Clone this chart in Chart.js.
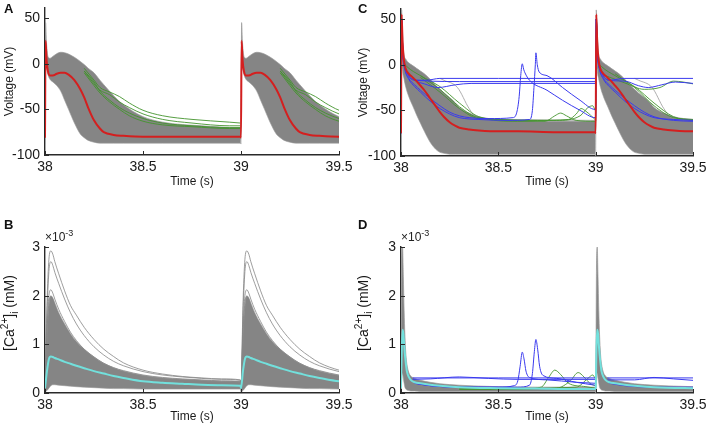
<!DOCTYPE html>
<html>
<head>
<meta charset="UTF-8">
<title>Membrane voltage and calcium traces</title>
<script src="https://cdn.jsdelivr.net/npm/chart.js"></script>
<style>
    body { margin: 0; background: #fff; font-family: "Liberation Sans", Arial, sans-serif; }
    #fig { position: relative; width: 708px; height: 429px; overflow: hidden; background: #fff; }
    #fig canvas { position: absolute; }
    .tag { position: absolute; font-weight: bold; font-size: 13px; color: #111; }
    .mult { position: absolute; font-size: 12px; color: #222; }
    .mult sup { font-size: 9px; }
    .ylab { position: absolute; width: 120px; height: 18px; line-height: 18px; text-align: center;
            font-size: 14px; color: #1a1a1a; transform: rotate(-90deg); white-space: nowrap; }
    .ylab sup, .ylab sub { font-size: 10px; line-height: 0; }
</style>
</head>
<body>
<div id="fig">
    <canvas id="chA" width="354" height="200" style="left:0;top:0"></canvas>
    <canvas id="chC" width="354" height="200" style="left:354px;top:0"></canvas>
    <canvas id="chB" width="354" height="214" style="left:0;top:215px"></canvas>
    <canvas id="chD" width="354" height="214" style="left:354px;top:215px"></canvas>
    <div class="tag" style="left:4px;top:1px">A</div>
    <div class="tag" style="left:358px;top:1px">C</div>
    <div class="tag" style="left:4px;top:217px">B</div>
    <div class="tag" style="left:358px;top:217px">D</div>
    <div class="mult" style="left:45px;top:228px">×10<sup>-3</sup></div>
    <div class="mult" style="left:401px;top:228px">×10<sup>-3</sup></div>
    <div class="ylab" style="left:-51px;top:304px">[Ca<sup>2+</sup>]<sub>i</sub> (mM)</div>
    <div class="ylab" style="left:303px;top:304px">[Ca<sup>2+</sup>]<sub>i</sub> (mM)</div>
</div>
<script>
// axes
const xTicks = [38, 38.5, 39, 39.5];
const vTicks = [-100, -50, 0, 50];
const caTicks = [0, 1, 2, 3];
const beatStarts = [38, 39];

// panel A, per beat (time offset in s, voltage mV)
const aT   = [0, 0.003, 0.008, 0.015, 0.025, 0.04, 0.06, 0.08, 0.1, 0.12, 0.15, 0.18, 0.2, 0.22, 0.25, 0.28, 0.3, 0.35, 0.4, 0.5, 0.6, 0.8, 0.997];
const aHi  = [-70, 45, 22, 8, 6, 8, 11, 12.5, 12, 10.5, 7, 2.5, -1, -5, -10, -18, -23, -35, -45, -58, -64, -68, -70];
const aLo  = [-88, 12, -4, -12, -17, -20, -24, -30, -40, -50, -65, -77, -81, -84, -86, -87, -87, -87, -87, -87, -87, -87, -87];
const aRed = [-81, 25, 4, -8, -13, -13, -11, -10, -10, -12, -18, -28, -37, -48, -62, -71, -75, -78, -79, -80, -80, -80, -80];
const aGT  = [0.2, 0.25, 0.28, 0.33, 0.38, 0.43, 0.5, 0.6, 0.75, 0.94, 0.997];
const aG1  = [-5, -18, -26, -31, -36, -43, -51, -57, -61, -64, -65];
const aG2  = [-8, -22, -29, -34, -42, -48, -55, -61, -65, -68, -68];
const aG3  = [-10, -24, -32, -42, -50, -57, -63, -67, -69, -71, -71];
const aG4  = [-8, -20, -30, -40, -48, -54, -60, -65, -68, -70, -70];

// panel C, per beat
const cT    = [0, 0.003, 0.008, 0.015, 0.025, 0.04, 0.06, 0.08, 0.1, 0.12, 0.15, 0.18, 0.2, 0.22, 0.25, 0.28, 0.3, 0.35, 0.4, 0.5, 0.6, 0.8, 0.997];
const cHi   = [-62, 60, 35, 12, 6, 2, -1, -4, -7, -10, -16, -23, -27, -31, -36, -42, -47, -53, -57, -60, -61, -62, -62];
const cLo   = [-100, 20, -5, -15, -25, -35, -45, -55, -64, -73, -85, -93, -96, -97, -98, -98, -98, -98, -98, -98, -98, -98, -98];
const cRed  = [-75, 55, 25, 5, -5, -10, -14, -18, -23, -28, -37, -46, -52, -57, -63, -67, -69, -71, -72, -73, -73, -74, -74];
const cGrayT = [0.2, 0.22, 0.29, 0.35, 0.39, 0.5, 0.997];
const cGrayV = [-15, -17, -25, -48, -58, -60, -61];

// panel C, single traces (absolute time s, mV)
const cBlue1 = [[38,-75],[38.003,50],[38.01,12],[38.03,-8],[38.07,-17],[38.13,-17],[38.2,-15],[38.5,-15],[38.997,-15],[39,-15],[39.003,50],[39.01,12],[39.03,-8],[39.07,-17],[39.15,-15],[39.5,-15]];
const cBlue2 = [[38,-75],[38.003,50],[38.01,12],[38.03,-8],[38.07,-17],[38.12,-21],[38.19,-25],[38.28,-22],[38.36,-20.5],[38.997,-20.5],[39,-20.5],[39.003,50],[39.01,12],[39.03,-8],[39.07,-17],[39.15,-18],[39.22,-23],[39.27,-25],[39.34,-22],[39.41,-19],[39.5,-20.5]];
const cBlue3 = [[38.07,-17],[38.15,-18],[38.3,-18.5],[38.997,-18.5]];
const cBlue4 = [[38,-75],[38.003,50],[38.01,10],[38.02,-5],[38.04,-15],[38.07,-22],[38.1,-28],[38.15,-37],[38.2,-45],[38.25,-52],[38.3,-56],[38.35,-58],[38.45,-59],[38.575,-58],[38.595,-52],[38.607,-35],[38.615,-12],[38.623,1],[38.63,-5],[38.637,-9],[38.66,-17],[38.75,-28],[38.83,-39],[38.92,-50],[38.997,-58],[39,-58],[39.003,50],[39.01,10],[39.02,-5],[39.04,-15],[39.07,-22],[39.1,-28],[39.15,-37],[39.2,-45],[39.25,-52],[39.3,-57],[39.4,-61],[39.5,-62]];
const cBlue5 = [[38,-75],[38.003,50],[38.01,10],[38.02,-5],[38.04,-16],[38.07,-24],[38.1,-30],[38.15,-40],[38.2,-48],[38.25,-54],[38.3,-58],[38.4,-60],[38.55,-61],[38.66,-60],[38.675,-50],[38.683,-25],[38.69,0],[38.693,13],[38.7,0],[38.71,-8],[38.75,-12],[38.83,-25],[38.92,-39],[38.997,-49],[39,-49],[39.003,50],[39.01,10],[39.02,-5],[39.04,-16],[39.07,-24],[39.1,-30],[39.15,-40],[39.2,-48],[39.25,-54],[39.3,-58],[39.4,-60],[39.5,-61]];
const cGreen1 = [[38,-75],[38.003,50],[38.01,10],[38.03,-2],[38.1,-12],[38.2,-24],[38.3,-42],[38.4,-57],[38.6,-62],[38.74,-62],[38.79,-56],[38.82,-53],[38.85,-56],[38.9,-61],[38.997,-62],[39,-62],[39.003,50],[39.01,10],[39.03,-2],[39.1,-12],[39.2,-24],[39.3,-42],[39.4,-57],[39.5,-61]];
const cGreen2 = [[38.1,-12],[38.2,-27],[38.3,-46],[38.4,-58],[38.7,-61],[38.86,-60],[38.9,-54],[38.925,-48],[38.95,-51],[38.997,-60]];
const cGreen3 = [[38.1,-14],[38.2,-30],[38.3,-48],[38.4,-59],[38.8,-61],[38.92,-56],[38.96,-47],[38.985,-45],[38.997,-50]];
const cGreen4 = [[39.05,-12],[39.1,-16],[39.15,-20],[39.25,-27],[39.33,-25],[39.4,-18],[39.45,-19],[39.5,-21]];
const cGreen5 = [[39.1,-10],[39.2,-25],[39.3,-45],[39.4,-58],[39.5,-60]];

// panel B, per beat (time offset s, Ca x1e-3 mM)
const bT    = [0, 0.01, 0.02, 0.03, 0.04, 0.05, 0.07, 0.1, 0.13, 0.16, 0.2, 0.25, 0.3, 0.35, 0.4, 0.5, 0.6, 0.7, 0.8, 0.9, 0.997];
const bHi   = [0.1, 1.2, 1.8, 2.0, 1.95, 1.85, 1.65, 1.42, 1.22, 1.06, 0.9, 0.74, 0.61, 0.52, 0.45, 0.36, 0.31, 0.28, 0.26, 0.24, 0.23];
const bLo   = [0.02, 0.05, 0.1, 0.15, 0.17, 0.17, 0.16, 0.15, 0.14, 0.13, 0.12, 0.11, 0.1, 0.09, 0.09, 0.08, 0.08, 0.08, 0.08, 0.08, 0.08];
const bTop1 = [0.1, 1.8, 2.75, 2.92, 2.85, 2.7, 2.45, 2.1, 1.8, 1.6, 1.35, 1.1, 0.9, 0.75, 0.62, 0.47, 0.39, 0.34, 0.31, 0.29, 0.27];
const bTop2 = [0.1, 1.6, 2.5, 2.7, 2.62, 2.48, 2.25, 1.93, 1.65, 1.42, 1.18, 0.95, 0.78, 0.65, 0.56, 0.44, 0.37, 0.33, 0.3, 0.28, 0.26];
const bTop3 = [0.1, 1.3, 2.0, 2.12, 2.05, 1.93, 1.72, 1.47, 1.25, 1.08, 0.9, 0.74, 0.61, 0.52, 0.46, 0.37, 0.32, 0.29, 0.27, 0.25, 0.24];
const bTop4 = [0.1, 1.2, 1.85, 1.98, 1.92, 1.8, 1.6, 1.38, 1.18, 1.0, 0.84, 0.68, 0.57, 0.49, 0.43, 0.35, 0.3, 0.27, 0.25, 0.24, 0.23];
const bCyan = [0.1, 0.45, 0.7, 0.75, 0.74, 0.72, 0.69, 0.64, 0.6, 0.56, 0.51, 0.45, 0.4, 0.35, 0.31, 0.24, 0.21, 0.19, 0.17, 0.16, 0.15];

// panel D, per beat
const dT    = [0, 0.004, 0.008, 0.012, 0.016, 0.02, 0.025, 0.03, 0.04, 0.05, 0.07, 0.1, 0.15, 0.2, 0.3, 0.5, 0.7, 0.9, 0.997];
const dHi   = [0.1, 2.5, 3.0, 2.4, 1.7, 1.2, 0.8, 0.6, 0.42, 0.35, 0.3, 0.26, 0.22, 0.19, 0.16, 0.13, 0.12, 0.12, 0.12];
const dLo   = [0.0, 0.3, 0.4, 0.3, 0.2, 0.12, 0.08, 0.06, 0.05, 0.04, 0.04, 0.03, 0.03, 0.03, 0.03, 0.03, 0.03, 0.03, 0.03];
const dCyan = [0.1, 0.9, 1.3, 1.22, 1.0, 0.8, 0.6, 0.45, 0.33, 0.27, 0.22, 0.2, 0.17, 0.15, 0.12, 0.1, 0.09, 0.08, 0.08];

// panel D, single traces (absolute time s); null = break
const dBlue1 = [[38.06,0.31],[38.5,0.31],[38.997,0.31],[38.998,null],[39.06,0.31],[39.5,0.31]];
const dBlue2 = [[38.06,0.28],[38.15,0.29],[38.3,0.33],[38.45,0.3],[38.6,0.28],[38.997,0.28],[38.998,null],[39.06,0.27],[39.2,0.27],[39.3,0.32],[39.4,0.29],[39.5,0.26]];
const dBlue3 = [[38.07,0.2],[38.15,0.15],[38.3,0.12],[38.5,0.12],[38.58,0.15],[38.6,0.25],[38.612,0.55],[38.623,0.84],[38.632,0.7],[38.642,0.45],[38.66,0.32],[38.75,0.27],[38.9,0.22],[38.997,0.2],[38.998,null],[39.07,0.2],[39.15,0.15],[39.3,0.12],[39.5,0.12]];
const dBlue4 = [[38.07,0.2],[38.15,0.15],[38.3,0.12],[38.6,0.12],[38.66,0.16],[38.675,0.4],[38.685,0.85],[38.693,1.1],[38.702,0.9],[38.712,0.55],[38.73,0.36],[38.8,0.3],[38.9,0.22],[38.997,0.16]];
const dGreen1 = [[38.3,0.08],[38.6,0.08],[38.72,0.12],[38.76,0.33],[38.79,0.47],[38.82,0.38],[38.86,0.2],[38.95,0.13],[38.997,0.1]];
const dGreen2 = [[38.3,0.08],[38.8,0.1],[38.87,0.25],[38.91,0.42],[38.94,0.33],[38.97,0.2],[38.997,0.15]];
const dGreen3 = [[38.3,0.08],[38.9,0.12],[38.96,0.3],[38.985,0.37],[38.997,0.3]];

// colours
const GRAY = '#858585', GRAY_LINE = '#9a9a9a', RED = '#d41f1f', CYAN = '#72e0dc', BLUE = '#3a3aee', GREEN = '#44942e';
const AXIS = '#2a2a2a';
const FONT = '"Liberation Sans", Arial, sans-serif';

// repeat a beat at each start time; traces that start late get a break between beats
function beats(offsets, vals) {
    const out = [];
    beatStarts.forEach((s, k) => {
        if (k > 0 && offsets[0] > 0) out.push({x: s - 0.001, y: null});
        offsets.forEach((t, i) => out.push({x: s + t, y: vals[i]}));
    });
    return out;
}
function pairs(p) {
    return p.map(q => ({x: q[0], y: q[1]}));
}
function line(data, color, width, order, extra) {
    return Object.assign({
        data: data, borderColor: color, borderWidth: width, pointRadius: 0,
        fill: false, order: order, cubicInterpolationMode: 'monotone', spanGaps: false
    }, extra || {});
}
function band(lo, hi) {
    return [
        line(lo, GRAY_LINE, 0.6, 20),
        line(hi, GRAY_LINE, 0.7, 20, {fill: '-1', backgroundColor: GRAY})
    ];
}

// inward tick marks like the original
const inTicks = {
    id: 'inTicks',
    afterDraw(chart) {
        const {ctx, chartArea: a, scales} = chart;
        ctx.save();
        ctx.strokeStyle = AXIS;
        ctx.lineWidth = 1;
        scales.x.ticks.forEach(t => {
            const px = Math.round(scales.x.getPixelForValue(t.value)) + 0.5;
            ctx.beginPath(); ctx.moveTo(px, a.bottom); ctx.lineTo(px, a.bottom - 4); ctx.stroke();
        });
        scales.y.ticks.forEach(t => {
            const py = Math.round(scales.y.getPixelForValue(t.value)) + 0.5;
            ctx.beginPath(); ctx.moveTo(a.left, py); ctx.lineTo(a.left + 4, py); ctx.stroke();
        });
        ctx.restore();
    }
};

function makeChart(id, datasets, p) {
    return new Chart(document.getElementById(id), {
        type: 'line',
        data: {datasets: datasets},
        plugins: [inTicks],
        options: {
            responsive: false,
            animation: false,
            events: [],
            layout: {padding: {top: p.top, right: 15, left: 0, bottom: 0}},
            plugins: {legend: {display: false}, tooltip: {enabled: false}},
            scales: {
                x: {
                    type: 'linear', min: 38, max: 39.5,
                    grid: {display: false, drawTicks: false},
                    border: {display: true, color: AXIS, width: 1.4},
                    ticks: {color: '#1a1a1a', font: {family: FONT, size: 14}, padding: p.xPad, maxRotation: 0,
                            callback: v => String(v)},
                    title: {display: true, text: 'Time (s)', color: '#1a1a1a', font: {family: FONT, size: 12}, padding: {top: 0, bottom: p.tPad}},
                    afterBuildTicks: s => { s.ticks = xTicks.map(v => ({value: v})); },
                    afterFit: s => { s.height = p.xH; s.paddingLeft = 0; s.paddingRight = 0; }
                },
                y: {
                    type: 'linear', min: p.yMin, max: p.yMax,
                    grid: {display: false, drawTicks: false},
                    border: {display: true, color: AXIS, width: 1.4},
                    ticks: {color: '#1a1a1a', font: {family: FONT, size: 14}, padding: 5, callback: v => String(v)},
                    title: {display: !!p.yTitle, text: p.yTitle || '', color: '#1a1a1a', font: {family: FONT, size: 12}, padding: {top: 2, bottom: 0}},
                    afterBuildTicks: s => { s.ticks = p.yTicks.map(v => ({value: v})); },
                    afterFit: s => { s.width = p.yW; s.paddingTop = 0; s.paddingBottom = 0; }
                }
            }
        }
    });
}

// A
makeChart('chA', [
    ...band(beats(aT, aLo), beats(aT, aHi)),
    line(beats(aGT, aG1), GREEN, 0.9, 5),
    line(beats(aGT, aG2), GREEN, 0.9, 5),
    line(beats(aGT, aG3), GREEN, 0.9, 5),
    line(beats(aGT, aG4), GREEN, 0.9, 5),
    line(beats(aT, aRed), RED, 2, 1)
], {top: 8, xH: 45, yW: 45, xPad: 4, tPad: 11, yMin: -100, yMax: 61, yTicks: vTicks, yTitle: 'Voltage (mV)'});

// C
makeChart('chC', [
    ...band(beats(cT, cLo), beats(cT, cHi)),
    line(beats(cGrayT, cGrayV), GRAY_LINE, 0.8, 8),
    line(pairs(cGreen1), GREEN, 0.9, 5),
    line(pairs(cGreen2), GREEN, 0.9, 5),
    line(pairs(cGreen3), GREEN, 0.9, 5),
    line(pairs(cGreen4), GREEN, 0.9, 5),
    line(pairs(cGreen5), GREEN, 0.9, 5),
    line(pairs(cBlue1), BLUE, 1, 4),
    line(pairs(cBlue2), BLUE, 1, 4),
    line(pairs(cBlue3), BLUE, 1, 4),
    line(pairs(cBlue4), BLUE, 1, 4),
    line(pairs(cBlue5), BLUE, 1, 4),
    line(beats(cT, cRed), RED, 2, 1)
], {top: 9, xH: 44, yW: 47, xPad: 4, tPad: 11, yMin: -100, yMax: 61, yTicks: vTicks, yTitle: 'Voltage (mV)'});

// B
makeChart('chB', [
    ...band(beats(bT, bLo), beats(bT, bHi)),
    line(beats(bT, bTop1), GRAY, 0.8, 8),
    line(beats(bT, bTop2), GRAY, 0.8, 8),
    line(beats(bT, bTop3), GRAY, 0.8, 8),
    line(beats(bT, bTop4), GRAY, 0.8, 8),
    line(beats(bT, bCyan), CYAN, 2, 1)
], {top: 32, xH: 36, yW: 45, xPad: 4, tPad: 5, yMin: 0, yMax: 3, yTicks: caTicks});

// D
makeChart('chD', [
    ...band(beats(dT, dLo), beats(dT, dHi)),
    line(pairs(dGreen1), GREEN, 0.9, 5),
    line(pairs(dGreen2), GREEN, 0.9, 5),
    line(pairs(dGreen3), GREEN, 0.9, 5),
    line(pairs(dBlue1), BLUE, 1, 4),
    line(pairs(dBlue2), BLUE, 1, 4),
    line(pairs(dBlue3), BLUE, 1, 4),
    line(pairs(dBlue4), BLUE, 1, 4),
    line(beats(dT, dCyan), CYAN, 2, 1)
], {top: 32, xH: 36, yW: 47, xPad: 4, tPad: 5, yMin: 0, yMax: 3, yTicks: caTicks});
</script>
</body>
</html>
